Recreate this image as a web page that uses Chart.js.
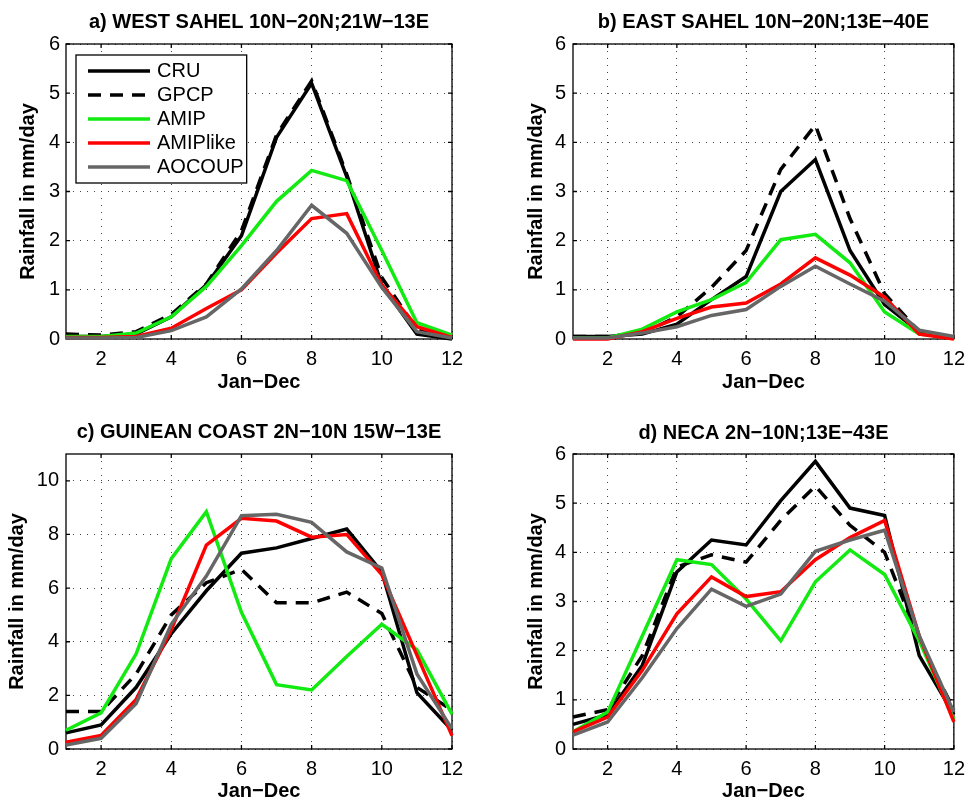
<!DOCTYPE html>
<html>
<head>
<meta charset="utf-8">
<script src="https://cdn.jsdelivr.net/npm/chart.js@4.4.1/dist/chart.umd.min.js"></script>
<style>
  body { margin: 0; background: #fff; }
  .panel { position: absolute; }
</style>
</head>
<body>
<div class="panel" style="left:0;top:0;width:486px;height:400px"><canvas id="chartA"></canvas></div>
<div class="panel" style="left:486px;top:0;width:487px;height:400px"><canvas id="chartB"></canvas></div>
<div class="panel" style="left:0;top:400px;width:486px;height:404px"><canvas id="chartC"></canvas></div>
<div class="panel" style="left:486px;top:400px;width:487px;height:404px"><canvas id="chartD"></canvas></div>
<script>
// months (Jan-Dec) and tick labels
const months = [1, 2, 3, 4, 5, 6, 7, 8, 9, 10, 11, 12];
const xTicks = [2, 4, 6, 8, 10, 12];
const yTicksSix = [0, 1, 2, 3, 4, 5, 6];
const yTicksGuinea = [0, 2, 4, 6, 8, 10];

const seriesNames = ['CRU', 'GPCP', 'AMIP', 'AMIPlike', 'AOCOUP'];

// a) West Sahel
const westCru      = [0.05, 0.05, 0.10, 0.45, 1.10, 2.10, 4.10, 5.20, 3.30, 1.10, 0.10, 0.00];
const westGpcp     = [0.10, 0.08, 0.15, 0.50, 1.12, 2.20, 4.15, 5.25, 3.35, 1.25, 0.20, 0.05];
const westAmip     = [0.05, 0.05, 0.12, 0.45, 1.07, 1.90, 2.80, 3.43, 3.22, 1.80, 0.33, 0.08];
const westAmiplike = [0.03, 0.03, 0.05, 0.22, 0.62, 1.00, 1.75, 2.45, 2.55, 1.10, 0.25, 0.03];
const westAocoup   = [0.02, 0.02, 0.03, 0.17, 0.45, 1.02, 1.80, 2.72, 2.15, 1.05, 0.15, 0.02];

// b) East Sahel
const eastCru      = [0.05, 0.05, 0.10, 0.30, 0.80, 1.27, 3.00, 3.65, 1.80, 0.70, 0.15, 0.03];
const eastGpcp     = [0.05, 0.05, 0.12, 0.45, 1.05, 1.80, 3.45, 4.35, 2.45, 0.92, 0.15, 0.03];
const eastAmip     = [0.02, 0.02, 0.20, 0.55, 0.80, 1.15, 2.02, 2.13, 1.55, 0.55, 0.10, 0.03];
const eastAmiplike = [0.00, 0.00, 0.15, 0.42, 0.65, 0.73, 1.12, 1.65, 1.30, 0.85, 0.10, 0.00];
const eastAocoup   = [0.02, 0.02, 0.12, 0.25, 0.48, 0.60, 1.07, 1.48, 1.12, 0.77, 0.18, 0.05];

// c) Guinean coast
const guineaCru      = [0.60, 0.90, 2.30, 4.30, 5.90, 7.30, 7.50, 7.85, 8.20, 6.60, 2.10, 0.70];
const guineaGpcp     = [1.40, 1.40, 2.80, 5.00, 6.20, 6.70, 5.45, 5.45, 5.85, 5.05, 2.30, 1.45];
const guineaAmip     = [0.70, 1.35, 3.55, 7.10, 8.85, 5.10, 2.40, 2.20, 3.45, 4.65, 3.70, 1.30];
const guineaAmiplike = [0.25, 0.50, 1.85, 4.45, 7.60, 8.60, 8.50, 7.90, 8.00, 6.50, 3.50, 0.50];
const guineaAocoup   = [0.15, 0.40, 1.70, 4.65, 6.45, 8.70, 8.75, 8.45, 7.35, 6.75, 2.80, 0.75];

// d) NECA
const necaCru      = [0.50, 0.70, 1.70, 3.60, 4.25, 4.15, 5.05, 5.85, 4.90, 4.75, 1.90, 0.70];
const necaGpcp     = [0.65, 0.80, 1.90, 3.70, 3.95, 3.80, 4.65, 5.35, 4.55, 4.00, 2.20, 0.80];
const necaAmip     = [0.35, 0.75, 2.30, 3.85, 3.75, 3.05, 2.20, 3.40, 4.05, 3.55, 2.20, 0.60];
const necaAmiplike = [0.35, 0.65, 1.60, 2.75, 3.50, 3.10, 3.20, 3.85, 4.30, 4.65, 2.30, 0.55];
const necaAocoup   = [0.28, 0.55, 1.45, 2.45, 3.25, 2.90, 3.15, 4.02, 4.25, 4.45, 2.30, 0.75];

const styles = [
  { color: '#000000', dash: [] },
  { color: '#000000', dash: [13, 9] },
  { color: '#12ea12', dash: [] },
  { color: '#ff0000', dash: [] },
  { color: '#666666', dash: [] }
];

Chart.defaults.font.family = '"Liberation Sans", Arial, Helvetica, sans-serif';
Chart.defaults.font.size = 20;
Chart.defaults.color = '#000';

const FS = 20, LH = FS * 1.2;

// box = panel div [x, y, w, h]; plot = plot area [left, top, right, bottom] in page px
const panels = [
  { id: 'chartA', title: 'a) WEST SAHEL 10N\u221220N;21W\u221213E',
    series: [westCru, westGpcp, westAmip, westAmiplike, westAocoup],
    yMax: 6, yTicks: yTicksSix, legend: true,
    box: [0, 0, 486, 400], plot: [66, 44, 452, 339],
    titleY: 22.5, yTitleX: 28.5, tickY: 359, xTitleY: 382, yTickPad: 6 },
  { id: 'chartB', title: 'b) EAST SAHEL 10N\u221220N;13E\u221240E',
    series: [eastCru, eastGpcp, eastAmip, eastAmiplike, eastAocoup],
    yMax: 6, yTicks: yTicksSix, legend: false,
    box: [486, 0, 487, 400], plot: [573, 44, 959, 339],
    titleY: 22.5, yTitleX: 536, tickY: 359, xTitleY: 382, yTickPad: 7 },
  { id: 'chartC', title: 'c) GUINEAN COAST 2N\u221210N 15W\u221213E',
    series: [guineaCru, guineaGpcp, guineaAmip, guineaAmiplike, guineaAocoup],
    yMax: 11, yTicks: yTicksGuinea, legend: false,
    box: [0, 400, 486, 404], plot: [66, 454, 452, 749],
    titleY: 432, yTitleX: 17.5, tickY: 769, xTitleY: 791, yTickPad: 7 },
  { id: 'chartD', title: 'd) NECA 2N\u221210N;13E\u221243E',
    series: [necaCru, necaGpcp, necaAmip, necaAmiplike, necaAocoup],
    yMax: 6, yTicks: yTicksSix, legend: false,
    box: [486, 400, 487, 404], plot: [573, 454, 959, 749],
    titleY: 433, yTitleX: 536, tickY: 769, xTitleY: 791, yTickPad: 7 }
];

// axes box and inward tick marks (matlab style)
const framePlugin = {
  id: 'frame',
  beforeDatasetsDraw(chart) {
    const { ctx, chartArea: a, scales } = chart;
    ctx.save();
    ctx.strokeStyle = '#000';
    ctx.lineWidth = 1.3;
    ctx.setLineDash([]);
    ctx.strokeRect(a.left, a.top, a.right - a.left, a.bottom - a.top);
    const len = 4;
    ctx.beginPath();
    scales.x.ticks.forEach(t => {
      const px = scales.x.getPixelForValue(t.value);
      ctx.moveTo(px, a.bottom); ctx.lineTo(px, a.bottom - len);
      ctx.moveTo(px, a.top); ctx.lineTo(px, a.top + len);
    });
    scales.y.ticks.forEach(t => {
      const py = scales.y.getPixelForValue(t.value);
      ctx.moveTo(a.left, py); ctx.lineTo(a.left + len, py);
      ctx.moveTo(a.right, py); ctx.lineTo(a.right - len, py);
    });
    ctx.stroke();
    ctx.restore();
  },
  afterDatasetsDraw(chart, args, opts) {
    if (!opts.legend) return;
    const { ctx, chartArea: a } = chart;
    const sets = chart.data.datasets;
    ctx.save();
    ctx.font = FS + 'px "Liberation Sans", Arial, sans-serif';
    const maxW = Math.max(...sets.map(d => ctx.measureText(d.label).width));
    const bx = a.left + 10, by = a.top + 11;
    const bw = 81 + maxW + 3, bh = 16 * 2 + 24 * (sets.length - 1);
    ctx.fillStyle = '#fff';
    ctx.fillRect(bx, by, bw, bh);
    ctx.strokeStyle = '#000';
    ctx.lineWidth = 1.3;
    ctx.strokeRect(bx, by, bw, bh);
    sets.forEach((d, i) => {
      const cy = by + 16 + 24 * i;
      ctx.beginPath();
      ctx.strokeStyle = d.borderColor;
      ctx.lineWidth = d.borderWidth;
      ctx.setLineDash(d.borderDash || []);
      ctx.moveTo(bx + 12, cy);
      ctx.lineTo(bx + 74, cy);
      ctx.stroke();
      ctx.setLineDash([]);
      ctx.fillStyle = '#000';
      ctx.textBaseline = 'middle';
      ctx.textAlign = 'left';
      ctx.fillText(d.label, bx + 81, cy);
    });
    ctx.restore();
  }
};

panels.forEach(p => {
  const w = p.box[2], h = p.box[3];
  const L = p.plot[0] - p.box[0], T = p.plot[1] - p.box[1];
  const R = p.plot[2] - p.box[0], B = p.plot[3] - p.box[1];
  const titleTop = p.titleY - p.box[1] - LH / 2;

  const datasets = p.series.map((vals, i) => ({
    label: seriesNames[i],
    data: months.map((m, k) => ({ x: m, y: vals[k] })),
    borderColor: styles[i].color,
    borderDash: styles[i].dash,
    borderWidth: 3.5,
    borderCapStyle: 'butt',
    borderJoinStyle: 'miter',
    pointRadius: 0,
    tension: 0,
    fill: false,
    clip: 4,
    order: seriesNames.length - i
  }));

  new Chart(document.getElementById(p.id), {
    type: 'line',
    data: { datasets },
    plugins: [framePlugin],
    options: {
      responsive: true,
      maintainAspectRatio: false,
      animation: false,
      events: [],
      layout: { padding: { left: 0, top: 0, right: w - R, bottom: 0 } },
      plugins: {
        legend: { display: false },
        tooltip: { enabled: false },
        frame: { legend: p.legend },
        title: {
          display: true,
          text: p.title,
          fullSize: false,
          font: { size: FS, weight: 'bold' },
          color: '#000',
          padding: { top: titleTop, bottom: T - titleTop - LH }
        }
      },
      scales: {
        x: {
          type: 'linear',
          min: 1, max: 12,
          afterBuildTicks: s => { s.ticks = xTicks.map(v => ({ value: v })); },
          afterFit: s => { s.height = h - B; },
          ticks: { padding: p.tickY - p.box[1] - B - LH / 2, maxRotation: 0, autoSkip: false },
          grid: { color: '#444', lineWidth: 1, drawTicks: false },
          border: { display: false, dash: [1, 6] },
          title: {
            display: true, text: 'Jan\u2212Dec',
            font: { size: FS, weight: 'bold' },
            padding: { top: 0, bottom: h - (p.xTitleY - p.box[1]) - LH / 2 }
          }
        },
        y: {
          type: 'linear',
          min: 0, max: p.yMax,
          afterBuildTicks: s => { s.ticks = p.yTicks.map(v => ({ value: v })); },
          afterFit: s => { s.width = L; },
          ticks: { padding: p.yTickPad, autoSkip: false },
          grid: { color: '#444', lineWidth: 1, drawTicks: false },
          border: { display: false, dash: [1, 6] },
          title: {
            display: true, text: 'Rainfall in mm/day',
            font: { size: FS, weight: 'bold' },
            padding: { top: p.yTitleX - p.box[0] - LH / 2, bottom: 0 }
          }
        }
      }
    }
  });
});
</script>
</body>
</html>
